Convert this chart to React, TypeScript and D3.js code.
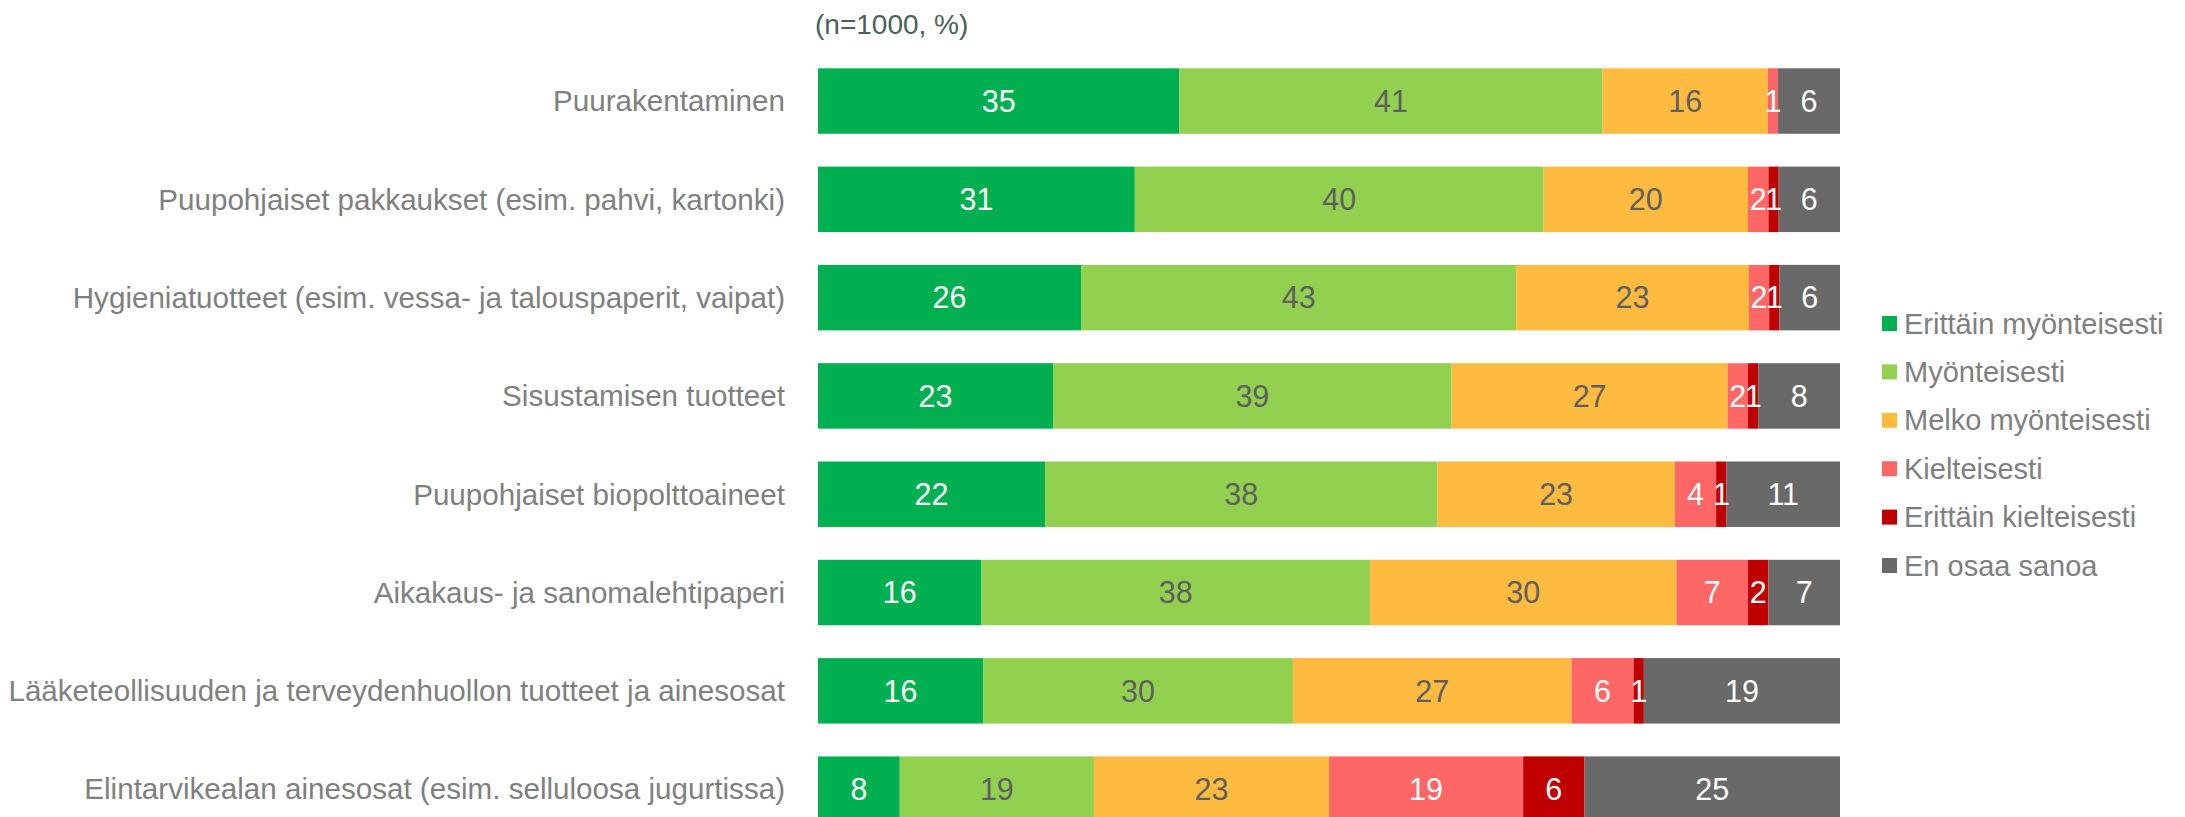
import React from 'react'
import * as d3 from 'd3'

const categories = [
  'Puurakentaminen',
  'Puupohjaiset pakkaukset (esim. pahvi, kartonki)',
  'Hygieniatuotteet (esim. vessa- ja talouspaperit, vaipat)',
  'Sisustamisen tuotteet',
  'Puupohjaiset biopolttoaineet',
  'Aikakaus- ja sanomalehtipaperi',
  'Lääketeollisuuden ja terveydenhuollon tuotteet ja ainesosat',
  'Elintarvikealan ainesosat (esim. selluloosa jugurtissa)',
]

const seriesNames = [
  'Erittäin myönteisesti',
  'Myönteisesti',
  'Melko myönteisesti',
  'Kielteisesti',
  'Erittäin kielteisesti',
  'En osaa sanoa',
]

const erittainMyonteisesti = [35, 31, 26, 23, 22, 16, 16, 8]
const myonteisesti = [41, 40, 43, 39, 38, 38, 30, 19]
const melkoMyonteisesti = [16, 20, 23, 27, 23, 30, 27, 23]
const kielteisesti = [1, 2, 2, 2, 4, 7, 6, 19]
const erittainKielteisesti = [0, 1, 1, 1, 1, 2, 1, 6]
const enOsaaSanoa = [6, 6, 6, 8, 11, 7, 19, 25]

const seriesValues = [
  erittainMyonteisesti,
  myonteisesti,
  melkoMyonteisesti,
  kielteisesti,
  erittainKielteisesti,
  enOsaaSanoa,
]

const colors = ['#00B050', '#92D050', '#FFBA40', '#FF6666', '#C00000', '#696969']
const labelColors = ['#ffffff', '#5f5f5f', '#5f5f5f', '#ffffff', '#ffffff', '#ffffff']

const W = 2185
const H = 817
const font = '"Liberation Sans", Arial, sans-serif'

export default function App() {
  // rows as objects for d3.stack
  const rows = categories.map((c, i) => {
    const r: any = { category: c }
    seriesNames.forEach((s, j) => (r[s] = seriesValues[j][i]))
    return r
  })

  // every bar spans the full width (Excel 100% stacked)
  const stacked = d3.stack<any>().keys(seriesNames).offset(d3.stackOffsetExpand)(rows)

  const x = d3.scaleLinear().domain([0, 1]).range([818, 1840])
  const step = 98.3
  const pi = 0.334
  const y = d3
    .scaleBand()
    .domain(categories)
    .range([68.3 - step * pi / 2, 68.3 - step * pi / 2 + step * categories.length])
    .paddingInner(pi)
    .paddingOuter(pi / 2)

  const legendY = d3.scalePoint().domain(seriesNames).range([323.5, 565.5])

  return (
    <svg
      width={W}
      height={H}
      style={{ position: 'absolute', left: 0, top: 0, background: '#fff' }}
      fontFamily={font}
    >
      <text x={815} y={24} dy="0.35em" fontSize={28} fill="#4A6258">
        (n=1000, %)
      </text>

      {/* category labels */}
      {categories.map((c) => (
        <text
          key={c}
          x={785}
          y={(y(c) as number) + y.bandwidth() / 2}
          dy="0.35em"
          textAnchor="end"
          fontSize={29.6}
          fill="#7F7F7F"
        >
          {c}
        </text>
      ))}

      {/* bars */}
      {stacked.map((layer, j) => (
        <g key={layer.key} fill={colors[j]}>
          {layer.map((d, i) => (
            <rect
              key={i}
              x={x(d[0])}
              y={y(categories[i])}
              width={Math.max(0, x(d[1]) - x(d[0]))}
              height={y.bandwidth()}
            />
          ))}
        </g>
      ))}

      {/* value labels */}
      {stacked.map((layer, j) => (
        <g key={'l' + layer.key} fill={labelColors[j]} fontSize={30.5} textAnchor="middle">
          {layer.map((d, i) =>
            seriesValues[j][i] > 0 ? (
              <text
                key={i}
                x={(x(d[0]) + x(d[1])) / 2}
                y={(y(categories[i]) as number) + y.bandwidth() / 2}
                dy="0.35em"
              >
                {seriesValues[j][i]}
              </text>
            ) : null
          )}
        </g>
      ))}

      {/* legend */}
      {seriesNames.map((s, j) => (
        <g key={'lg' + s} transform={`translate(1882, ${legendY(s)})`}>
          <rect x={0} y={-7.5} width={15} height={15} fill={colors[j]} />
          <text x={22} dy="0.35em" fontSize={29} fill="#7F7F7F">
            {s}
          </text>
        </g>
      ))}
    </svg>
  )
}
